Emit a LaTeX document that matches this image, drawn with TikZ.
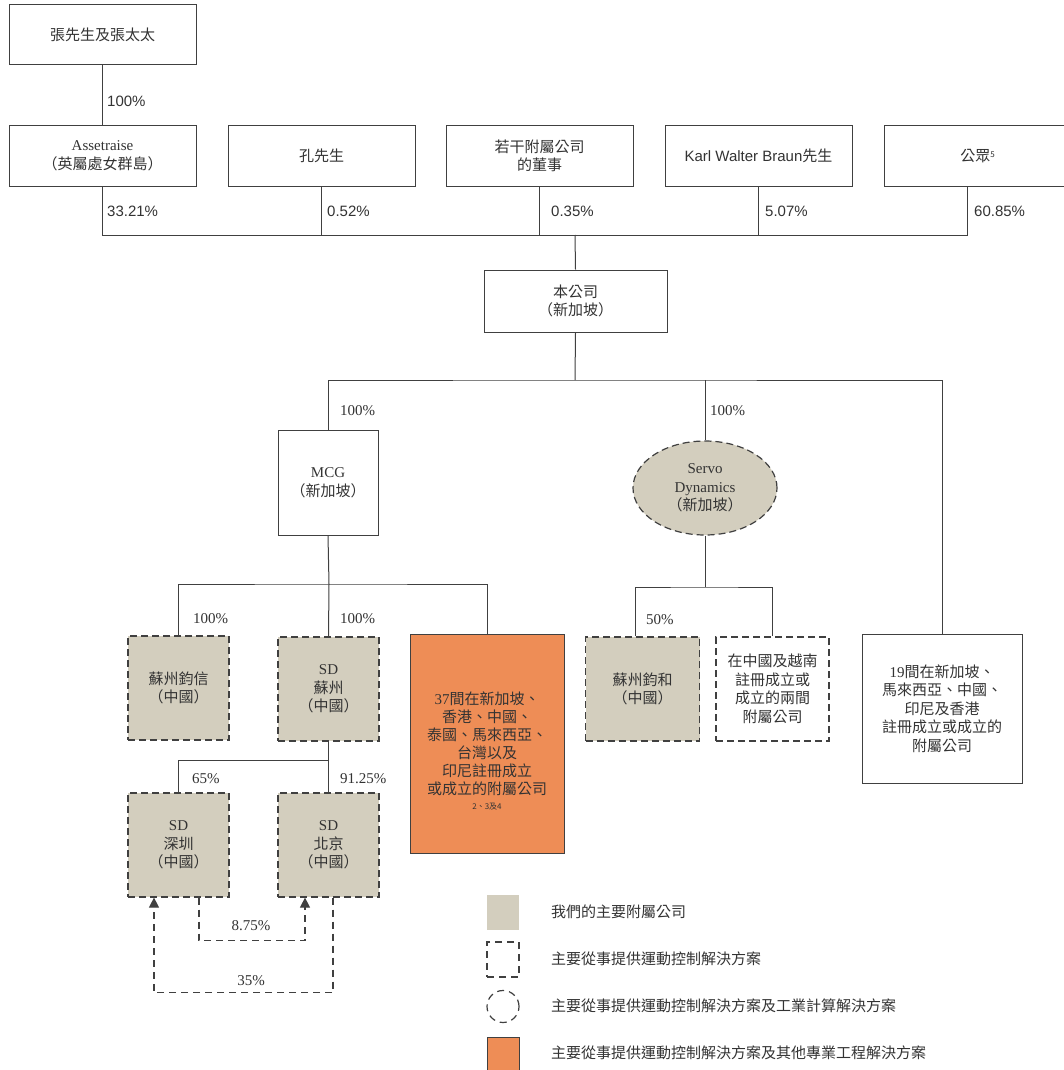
\documentclass[tikz,border=0pt]{standalone}
\usepackage{fontspec}
\setmainfont{Liberation Serif}
\newfontfamily\cjk{Noto Sans CJK TC}
\newfontfamily\lsans{Liberation Sans}
\usetikzlibrary{arrows.meta,shapes.geometric}
\definecolor{gfill}{RGB}{211,206,190}
\definecolor{ofill}{RGB}{238,141,86}
\definecolor{ln}{RGB}{64,64,64}
\definecolor{tx}{RGB}{51,51,51}
\begin{document}
\begin{tikzpicture}[x=1pt,y=-1pt,
  box/.style={draw=ln, line width=1pt, fill=white, align=center, inner sep=0pt, text=tx,
    font=\cjk\fontsize{15}{18.5}\selectfont},
  dbox/.style={box, dash pattern=on 7pt off 4pt, line width=1.2pt},
  gbox/.style={dbox, fill=gfill},
  conn/.style={draw=ln, line width=1pt},
  darr/.style={draw=ln, line width=1.2pt, dash pattern=on 7pt off 5pt, -{Triangle[length=10pt,width=10pt]}},
  pct/.style={font=\lsans\fontsize{15}{18}\selectfont, anchor=west, text=tx, inner sep=0pt},
  spct/.style={font=\rmfamily\fontsize{15}{18}\selectfont, anchor=west, text=tx, inner sep=0pt},
  lgtxt/.style={font=\cjk\fontsize{15}{18}\selectfont, anchor=west, text=tx, inner sep=0pt}
]
\useasboundingbox (0,0) rectangle (1063,1070);
\fill[white] (0,0) rectangle (1063,1070);

% top level
\node[box, minimum width=187pt, minimum height=60pt] (zhang) at (102.5,35) {張先生及張太太};
\node[box, minimum width=187pt, minimum height=60pt] (asset) at (102.5,156) {{\rmfamily Assetraise}\\（英屬處女群島）};
\node[box, minimum width=187pt, minimum height=60pt] (kong) at (321.5,156) {孔先生};
\node[box, minimum width=187pt, minimum height=60pt] (dir) at (539.5,156) {若干附屬公司\\的董事};
\node[box, minimum width=187pt, minimum height=60pt] (karl) at (758.5,156) {{\lsans Karl Walter Braun}先生};
\node[box, minimum width=187pt, minimum height=60pt] (pub) at (977.5,156) {公眾{\fontsize{8}{8}\selectfont\raisebox{4pt}{5}}};

\node[box, minimum width=183pt, minimum height=62pt] (co) at (575.5,301) {本公司\\（新加坡）};

\node[box, minimum width=100pt, minimum height=105pt] (mcg) at (328,482.5) {{\rmfamily MCG}\\（新加坡）};
\node[dbox, ellipse, fill=gfill, minimum width=144pt, minimum height=94pt] (servo) at (705,488) {{\rmfamily Servo}\\{\rmfamily Dynamics}\\（新加坡）};
\node[box, minimum width=160pt, minimum height=149pt] (n19) at (942,708.5) {{\rmfamily 19}間在新加坡、\\馬來西亞、中國、\\印尼及香港\\註冊成立或成立的\\附屬公司};

\node[gbox, minimum width=101pt, minimum height=104pt] (jx) at (178.5,688) {蘇州鈞信\\（中國）};
\node[gbox, minimum width=101pt, minimum height=104pt] (sdsz) at (328.5,689) {{\rmfamily SD}\\蘇州\\（中國）};
\node[box, fill=ofill, minimum width=154pt, minimum height=219pt] (orange) at (487,743.5) {};
\node[align=center, inner sep=0pt, text=tx, font=\cjk\fontsize{15}{18}\selectfont] (otext) at (487,751)
  {{\rmfamily 37}間在新加坡、\\香港、中國、\\泰國、馬來西亞、\\台灣以及\\印尼註冊成立\\或成立的附屬公司\\[-3pt]{\fontsize{8}{9}\selectfont 2、3及4}};
\node[gbox, minimum width=114pt, minimum height=104pt] (jh) at (642.5,689) {蘇州鈞和\\（中國）};
\node[dbox, minimum width=113pt, minimum height=104pt] (two) at (772.5,689) {在中國及越南\\註冊成立或\\成立的兩間\\附屬公司};

\node[gbox, minimum width=101pt, minimum height=104pt] (sdsh) at (178.5,845) {{\rmfamily SD}\\深圳\\（中國）};
\node[gbox, minimum width=101pt, minimum height=104pt] (sdbj) at (328.5,845) {{\rmfamily SD}\\北京\\（中國）};

% junction coordinates
\coordinate (b1) at (575,235);
\coordinate (b2) at (575,380);
\coordinate (b3) at (329,584);
\coordinate (b4) at (705,587);
\coordinate (b5) at (329,760);
\coordinate (pubx) at ([xshift=-10.5pt]pub.south);
\coordinate (jhx) at ([xshift=-7pt]jh.north);

% connectors
\draw[conn] (zhang.south) -- (asset.north);
\draw[conn] (asset.south) -- (asset.south |- b1) -- (pubx |- b1) -- (pubx);
\draw[conn] (kong.south) -- (kong.south |- b1);
\draw[conn] (dir.south) -- (dir.south |- b1);
\draw[conn] (karl.south) -- (karl.south |- b1);
\draw[conn] (b1) -- (co.north);
\draw[conn] (co.south) -- (b2);
\draw[conn] (mcg.north) |- (b2) -| (n19.north);
\draw[conn] (b2 -| servo.north) -- (servo.north);
\draw[conn] (mcg.south) -- (b3);
\draw[conn] (jx.north) |- (b3) -| (orange.north);
\draw[conn] (b3) -- (sdsz.north);
\draw[conn] (servo.south) -- (b4);
\draw[conn] (jhx) |- (b4) -| (two.north);
\draw[conn] (sdsz.south) -- (sdbj.north);
\draw[conn] (b5) -| (sdsh.north);

\draw[darr] ([xshift=20.5pt]sdsh.south) -- ++(0,43) -| ([xshift=-23.5pt]sdbj.south);
\draw[darr] ([xshift=4.5pt]sdbj.south) -- ++(0,95) -| ([xshift=-24.5pt]sdsh.south);

% percentage labels
\node[pct] (p1) at (107,101) {100\%};
\node[pct] (p2) at (107,211) {33.21\%};
\node[pct] (p3) at (327,211) {0.52\%};
\node[pct] (p4) at (551,211) {0.35\%};
\node[pct] (p5) at (765,211) {5.07\%};
\node[pct] (p6) at (974,211) {60.85\%};
\node[spct] (p7) at (340,411) {100\%};
\node[spct] (p8) at (710,411) {100\%};
\node[spct] (p9) at (193,619) {100\%};
\node[spct] (p10) at (340,619) {100\%};
\node[spct] (p11) at (646,620) {50\%};
\node[spct] (p12) at (192,779) {65\%};
\node[spct] (p13) at (340,779) {91.25\%};
\node[spct, anchor=center] (p14) at (251,926) {8.75\%};
\node[spct, anchor=center] (p15) at (251,981) {35\%};

% legend
\node[fill=gfill, inner sep=0pt, minimum width=32pt, minimum height=35pt] (lg1) at (503,912.5) {};
\node[draw=ln, dash pattern=on 7pt off 5pt, line width=1.2pt, inner sep=0pt, minimum width=32pt, minimum height=35pt] (lg2) at (503,959.5) {};
\node[draw=ln, dash pattern=on 7pt off 5pt, line width=1.2pt, circle, inner sep=0pt, minimum size=32pt] (lg3) at (503,1006.5) {};
\node[draw=ln, fill=ofill, line width=1pt, inner sep=0pt, minimum width=32pt, minimum height=35pt] (lg4) at (503,1055) {};
\node[lgtxt] (lt1) at (551,912) {我們的主要附屬公司};
\node[lgtxt] (lt2) at (551,959) {主要從事提供運動控制解決方案};
\node[lgtxt] (lt3) at (551,1006) {主要從事提供運動控制解決方案及工業計算解決方案};
\node[lgtxt] (lt4) at (551,1053) {主要從事提供運動控制解決方案及其他專業工程解決方案};
\end{tikzpicture}
\end{document}
